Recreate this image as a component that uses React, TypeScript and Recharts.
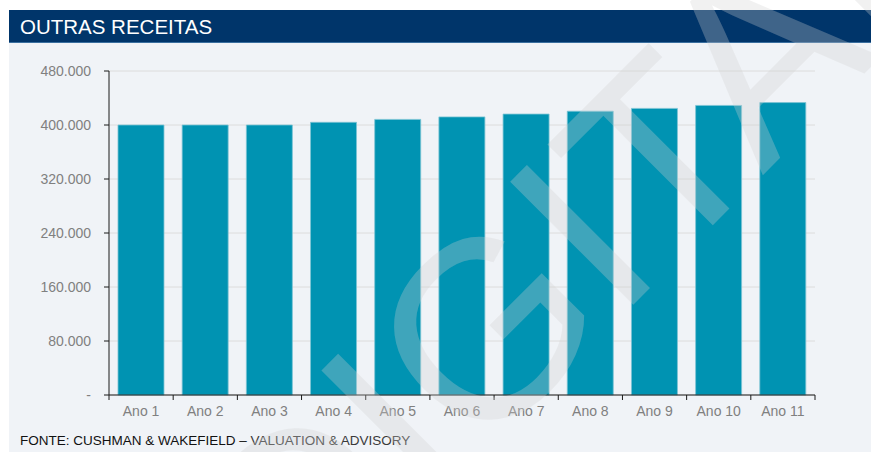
import React from 'react';
import { BarChart, Bar, XAxis, YAxis, CartesianGrid } from 'recharts';

const categories = ['Ano 1', 'Ano 2', 'Ano 3', 'Ano 4', 'Ano 5', 'Ano 6', 'Ano 7', 'Ano 8', 'Ano 9', 'Ano 10', 'Ano 11'];
const receitas = [400000, 400000, 400000, 404000, 408300, 412000, 416200, 420400, 424600, 429000, 433200];
const yTicks = [0, 80000, 160000, 240000, 320000, 400000, 480000];

const data = categories.map((ano, i) => ({ ano, valor: receitas[i] }));

// 480000 -> "480.000", 0 -> "-"
const fmt = (v: number) => (v === 0 ? '-' : String(v).replace(/\B(?=(\d{3})+(?!\d))/g, '.'));

const FONT = '"Liberation Sans", Arial, sans-serif';

// label + tick mark on the left edge of each category (and the right edge for the last one)
const AnoTick = (props: any) => {
  const { x, y, payload, index, visibleTicksCount, width } = props;
  const n = visibleTicksCount || categories.length;
  const band = (typeof width === 'number' && width > 0 ? width : 706) / n;
  const left = x - band / 2;
  return (
    <g>
      <line x1={left} x2={left} y1={y} y2={y + 5} stroke="#1a1a1a" />
      {index === n - 1 && <line x1={left + band} x2={left + band} y1={y} y2={y + 5} stroke="#1a1a1a" />}
      <text x={x} y={y + 11} dy="0.71em" textAnchor="middle" fill="#808080" fontSize={14} fontFamily={FONT}>
        {payload.value}
      </text>
    </g>
  );
};

export default function App() {
  return (
    <div style={{ position: 'absolute', left: 0, top: 0, width: 871, height: 452, background: '#fff', overflow: 'hidden', fontFamily: FONT }}>
      {/* header bar */}
      <div style={{ position: 'absolute', left: 9, top: 10, width: 862, height: 33, background: '#00356a', borderBottom: '1px solid #3a6f9f', boxSizing: 'border-box' }}>
        <span style={{ position: 'absolute', left: 11, top: 6, color: '#fff', fontSize: 20.5, lineHeight: '21px' }}>OUTRAS RECEITAS</span>
      </div>
      {/* panel */}
      <div style={{ position: 'absolute', left: 9, top: 43, width: 862, height: 409, background: '#f0f3f7' }} />

      <div style={{ position: 'absolute', left: 0, top: 0 }}>
        <BarChart width={871} height={452} data={data} margin={{ top: 71, right: 56, bottom: 27, left: 9 }} barCategoryGap="14%">
          <CartesianGrid vertical={false} stroke="#dcdcdc" />
          <YAxis width={100} domain={[0, 480000]} ticks={yTicks} tickFormatter={fmt} interval={0}
            axisLine={{ stroke: '#1a1a1a' }} tickLine={{ stroke: '#1a1a1a' }} tickSize={5} tickMargin={13}
            tick={{ fill: '#808080', fontSize: 14, fontFamily: FONT }} />
          <Bar dataKey="valor" fill="#0093b2" stroke="#7cc4d4" strokeWidth={0.8} isAnimationActive={false} />
          <XAxis dataKey="ano" height={30} axisLine={{ stroke: '#1a1a1a' }} tickLine={false} tickSize={0} tickMargin={0}
            tick={<AnoTick />} interval={0} />
        </BarChart>
      </div>

      {/* footer source */}
      <div style={{ position: 'absolute', left: 20, top: 434, fontSize: 13.5, lineHeight: '14px', color: '#111', whiteSpace: 'nowrap' }}>
        FONTE: CUSHMAN &amp; WAKEFIELD – <span style={{ color: '#3a3a3a' }}>VALUATION &amp; ADVISORY</span>
      </div>

      {/* watermark */}
      <svg width={871} height={452} style={{ position: 'absolute', left: 0, top: 0, pointerEvents: 'none' }}>
        <text x={640} y={298} textAnchor="middle" transform="rotate(-45 640 298)" fontFamily={FONT} fontSize={253} fill="#cfcfcf" fillOpacity={0.3}>
          DIGITAL
        </text>
      </svg>
    </div>
  );
}
